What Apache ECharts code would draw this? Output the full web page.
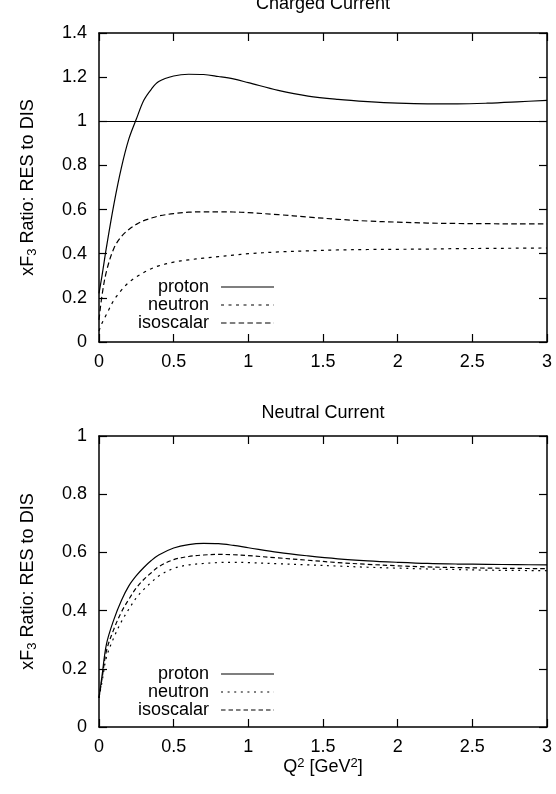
<!DOCTYPE html>
<html><head><meta charset="utf-8">
<script src="https://cdn.jsdelivr.net/npm/echarts@6/dist/echarts.min.js"></script>
<style>html,body{margin:0;padding:0;background:#fff}#c{width:556px;height:794px}</style>
</head><body><div id="c"></div>
<script>
// Q^2 sample positions [GeV^2]
const q2 = [0, 0.02, 0.05, 0.1, 0.15, 0.2, 0.25, 0.3, 0.35, 0.4, 0.5, 0.6, 0.7, 0.8, 0.9, 1.0, 1.2, 1.4, 1.6, 1.8, 2.0, 2.2, 2.4, 2.6, 2.8, 3.0];
// Charged current
const ccProton = [0.22, 0.30, 0.43, 0.625, 0.79, 0.92, 1.01, 1.095, 1.145, 1.18, 1.205, 1.213, 1.212, 1.203, 1.192, 1.175, 1.14, 1.114, 1.099, 1.089, 1.082, 1.079, 1.079, 1.082, 1.088, 1.095];
const ccNeutron = [0.05, 0.085, 0.125, 0.19, 0.235, 0.27, 0.295, 0.315, 0.332, 0.345, 0.362, 0.372, 0.38, 0.387, 0.394, 0.4, 0.408, 0.413, 0.417, 0.419, 0.42, 0.421, 0.423, 0.424, 0.425, 0.426];
const ccIso = [0.10, 0.21, 0.32, 0.425, 0.478, 0.51, 0.533, 0.55, 0.561, 0.571, 0.582, 0.588, 0.59, 0.59, 0.589, 0.586, 0.577, 0.566, 0.556, 0.548, 0.543, 0.539, 0.537, 0.536, 0.535, 0.535];
// Neutral current
const ncProton = [0.10, 0.175, 0.285, 0.37, 0.435, 0.485, 0.52, 0.548, 0.572, 0.591, 0.615, 0.627, 0.631, 0.63, 0.624, 0.616, 0.60, 0.588, 0.578, 0.571, 0.566, 0.562, 0.56, 0.559, 0.558, 0.557];
const ncNeutron = [0.10, 0.155, 0.24, 0.308, 0.362, 0.405, 0.444, 0.473, 0.497, 0.519, 0.545, 0.557, 0.562, 0.565, 0.566, 0.565, 0.561, 0.557, 0.553, 0.549, 0.546, 0.543, 0.541, 0.539, 0.538, 0.537];
const ncIso = [0.10, 0.165, 0.262, 0.337, 0.395, 0.439, 0.478, 0.507, 0.53, 0.551, 0.575, 0.586, 0.591, 0.593, 0.592, 0.589, 0.581, 0.573, 0.565, 0.559, 0.554, 0.55, 0.548, 0.546, 0.545, 0.544];
const unityLevel = 1;
const seriesNames = ['proton', 'neutron', 'isoscalar'];
const panelTitles = ['Charged Current', 'Neutral Current'];

const FONT = "'Liberation Sans', Arial, Helvetica, sans-serif";
const BLACK = '#000';

function pts(ys) { return q2.map((x, i) => [x, ys[i]]); }

function xAx(grid, pos, labels, name) {
  return {
    type: 'value', gridIndex: grid, position: pos, min: 0, max: 3, interval: 0.5,
    axisLine: { show: true, onZero: false, lineStyle: { color: BLACK, width: 1.5 } },
    axisTick: { show: true, inside: true, length: 8, lineStyle: { color: BLACK, width: 1.2 } },
    axisLabel: { show: labels, margin: 11, color: BLACK, fontSize: 18, fontFamily: FONT, showMinLabel: true, showMaxLabel: true },
    splitLine: { show: false },
    name: name || '', nameLocation: 'middle', nameGap: 30, nameMoveOverlap: false,
    nameTextStyle: {
      color: BLACK, fontFamily: FONT, fontSize: 18,
      rich: {
        a: { fontSize: 18, fontFamily: FONT, color: BLACK },
        s: { fontSize: 13, fontFamily: FONT, color: BLACK, padding: [0, 0, 8, 0] }
      }
    }
  };
}
function yAx(grid, pos, max, labels, name) {
  return {
    type: 'value', gridIndex: grid, position: pos, min: 0, max: max, interval: 0.2,
    axisLine: { show: true, onZero: false, lineStyle: { color: BLACK, width: 1.5 } },
    axisTick: { show: true, inside: true, length: 8, lineStyle: { color: BLACK, width: 1.2 } },
    axisLabel: { show: labels, margin: 12, color: BLACK, fontSize: 18, fontFamily: FONT, showMinLabel: true, showMaxLabel: true },
    splitLine: { show: false },
    name: name || '', nameLocation: 'middle', nameGap: 60, nameRotate: 90, nameMoveOverlap: false,
    nameTextStyle: {
      color: BLACK, fontFamily: FONT, fontSize: 18,
      rich: {
        a: { fontSize: 18, fontFamily: FONT, color: BLACK },
        s: { fontSize: 13, fontFamily: FONT, color: BLACK, padding: [8, 0, 0, 0] }
      }
    }
  };
}

const yName = '{a|xF}{s|3}{a| Ratio: RES to DIS}';
const xName = '{a|Q}{s|2}{a| [GeV}{s|2}{a|]}';

const styles = {
  top: { proton: 'solid', neutron: [3, 4.5], isoscalar: [5.5, 3.3] },
  bot: { proton: 'solid', neutron: [2, 4.6], isoscalar: [4.5, 3] }
};

function line(name, ys, xi, yi, dash, extra) {
  return Object.assign({
    type: 'line', name: name, xAxisIndex: xi, yAxisIndex: yi, data: pts(ys),
    showSymbol: false, symbol: 'none', smooth: 0.35, animation: false, silent: true,
    lineStyle: { color: BLACK, width: 1.2, type: dash },
    itemStyle: { color: BLACK }
  }, extra || {});
}

function legend(top, st) {
  return {
    top: top, left: 138, orient: 'vertical', align: 'right', padding: 0, itemGap: 0,
    itemWidth: 53, itemHeight: 14, selectedMode: false,
    itemStyle: { opacity: 0 },
    textStyle: { color: BLACK, fontSize: 18, fontFamily: FONT, lineHeight: 18, padding: [0, 7, 0, 0] },
    data: seriesNames.map(n => ({ name: n, lineStyle: { type: st[n], color: BLACK, width: 1.2 } }))
  };
}

const chart = echarts.init(document.getElementById('c'), null, { renderer: 'canvas' });
chart.setOption({
  backgroundColor: '#fff',
  animation: false,
  textStyle: { fontFamily: FONT },
  title: [
    { text: panelTitles[0], left: 323, top: -5, textAlign: 'center', padding: 0,
      textStyle: { fontSize: 18, fontWeight: 'normal', color: BLACK, fontFamily: FONT } },
    { text: panelTitles[1], left: 323, top: 404, textAlign: 'center', padding: 0,
      textStyle: { fontSize: 18, fontWeight: 'normal', color: BLACK, fontFamily: FONT } }
  ],
  grid: [
    { left: 99, right: 9, top: 33, height: 309, outerBoundsMode: 'none' },
    { left: 99, right: 9, top: 436, height: 291, outerBoundsMode: 'none' }
  ],
  xAxis: [ xAx(0, 'bottom', true), xAx(0, 'top', false), xAx(1, 'bottom', true, xName), xAx(1, 'top', false) ],
  yAxis: [ yAx(0, 'left', 1.4, true, yName), yAx(0, 'right', 1.4, false), yAx(1, 'left', 1, true, yName), yAx(1, 'right', 1, false) ],
  legend: [ legend(278, styles.top), legend(665, styles.bot) ],
  series: [
    line('proton', ccProton, 0, 0, styles.top.proton, {
      markLine: { silent: true, symbol: 'none', label: { show: false }, animation: false,
        lineStyle: { color: BLACK, width: 1.2, type: 'solid' }, data: [{ yAxis: unityLevel }] }
    }),
    line('neutron', ccNeutron, 0, 0, styles.top.neutron),
    line('isoscalar', ccIso, 0, 0, styles.top.isoscalar),
    line('proton', ncProton, 2, 2, styles.bot.proton),
    line('neutron', ncNeutron, 2, 2, styles.bot.neutron),
    line('isoscalar', ncIso, 2, 2, styles.bot.isoscalar)
  ]
});
</script></body></html>
